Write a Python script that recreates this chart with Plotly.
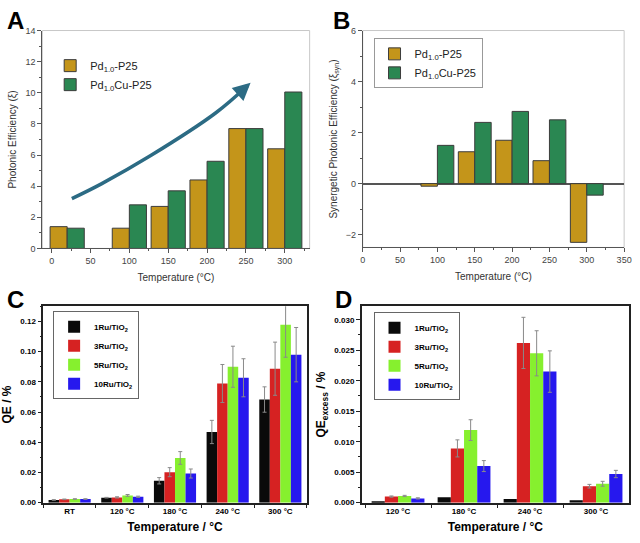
import plotly.graph_objects as go

# ---------------- data ----------------
# Panel A
temps_a = [20, 100, 150, 200, 250, 300]
pe_pd = [1.4, 1.3, 2.7, 4.4, 7.7, 6.4]
pe_pdcu = [1.3, 2.8, 3.7, 5.6, 7.7, 10.05]
arrow_x = [26, 64, 127, 211, 252]
arrow_y = [3.2, 4.15, 5.95, 8.7, 10.45]

# Panel B
temps_b = [100, 150, 200, 250, 300]
syn_pd = [-0.1, 1.25, 1.7, 0.9, -2.3]
syn_pdcu = [1.5, 2.4, 2.83, 2.5, -0.45]

# Panel C
cats_c = ["RT", "120 °C", "180 °C", "240 °C", "300 °C"]
qe_1 = [0.0018, 0.0033, 0.0145, 0.0468, 0.0683]
qe_3 = [0.0022, 0.0035, 0.0202, 0.0789, 0.0887]
qe_5 = [0.0024, 0.0048, 0.0296, 0.0900, 0.1178]
qe_10 = [0.0024, 0.0039, 0.0193, 0.0827, 0.0980]
qe_1_err = [0.0002, 0.0002, 0.0021, 0.0077, 0.0084]
qe_3_err = [0.0002, 0.0004, 0.0030, 0.0126, 0.0176]
qe_5_err = [0.0002, 0.0006, 0.0042, 0.0136, 0.0215]
qe_10_err = [0.0002, 0.0004, 0.0030, 0.0126, 0.0180]

# Panel D
cats_d = ["120 °C", "180 °C", "240 °C", "300 °C"]
qx_1 = [0.00015, 0.0009, 0.0006, 0.0004]
qx_3 = [0.0010, 0.0089, 0.0262, 0.0027]
qx_5 = [0.0011, 0.0119, 0.0245, 0.0031]
qx_10 = [0.0007, 0.0060, 0.0215, 0.0047]
qx_3_err = [0.0001, 0.0014, 0.0042, 0.0003]
qx_5_err = [0.0001, 0.0017, 0.0037, 0.0004]
qx_10_err = [0.0001, 0.0009, 0.0034, 0.0006]

ru_names = ["1Ru/TiO<sub>2</sub>", "3Ru/TiO<sub>2</sub>", "5Ru/TiO<sub>2</sub>", "10Ru/TiO<sub>2</sub>"]
ru_colors = ["#0a0a0a", "#d62222", "#86f02e", "#2618ee"]
GOLD = "#c4951a"
GREEN = "#2a8752"
ARROW = "#2c6b84"
FONT = "Liberation Sans"

W, H = 640, 543
def px_x(a, b):
    return [a / W, b / W]
def px_y(top, bottom):
    return [1 - bottom / H, 1 - top / H]

fig = go.Figure()

# ---- A ----
fig.add_trace(go.Bar(x=temps_a, y=pe_pd, width=22, offset=-22, marker=dict(color=GOLD, line=dict(color="#3c3c3c", width=1)),
                     name="Pd<sub>1.0</sub>-P25", xaxis="x", yaxis="y", legend="legend"))
fig.add_trace(go.Bar(x=temps_a, y=pe_pdcu, width=22, offset=0, marker=dict(color=GREEN, line=dict(color="#3c3c3c", width=1)),
                     name="Pd<sub>1.0</sub>Cu-P25", xaxis="x", yaxis="y", legend="legend"))
fig.add_trace(go.Scatter(x=arrow_x, y=arrow_y, mode="lines", line=dict(color=ARROW, width=3.5, shape="spline"),
                         showlegend=False, hoverinfo="skip", xaxis="x", yaxis="y"))

# ---- B ----
fig.add_trace(go.Bar(x=temps_b, y=syn_pd, width=22, offset=-22, marker=dict(color=GOLD, line=dict(color="#3c3c3c", width=1)),
                     name="Pd<sub>1.0</sub>-P25", xaxis="x2", yaxis="y2", legend="legend2"))
fig.add_trace(go.Bar(x=temps_b, y=syn_pdcu, width=22, offset=0, marker=dict(color=GREEN, line=dict(color="#3c3c3c", width=1)),
                     name="Pd<sub>1.0</sub>Cu-P25", xaxis="x2", yaxis="y2", legend="legend2"))

# ---- C ----
c_vals = [qe_1, qe_3, qe_5, qe_10]
c_errs = [qe_1_err, qe_3_err, qe_5_err, qe_10_err]
for nm, col, v, e in zip(ru_names, ru_colors, c_vals, c_errs):
    fig.add_trace(go.Bar(x=cats_c, y=v, name=nm, marker=dict(color=col, line=dict(width=0)),
                         error_y=dict(type="data", array=e, color="#8a8a8a", thickness=1, width=2),
                         xaxis="x3", yaxis="y3", legend="legend3"))

# ---- D ----
d_vals = [qx_1, qx_3, qx_5, qx_10]
d_errs = [None, qx_3_err, qx_5_err, qx_10_err]
for nm, col, v, e in zip(ru_names, ru_colors, d_vals, d_errs):
    eb = dict(type="data", array=e, color="#8a8a8a", thickness=1, width=2) if e is not None else dict(visible=False)
    fig.add_trace(go.Bar(x=cats_d, y=v, name=nm, marker=dict(color=col, line=dict(width=0)),
                         error_y=eb, xaxis="x4", yaxis="y4", legend="legend4"))

ab_tick = dict(family=FONT, size=9, color="#444")
ab_title = dict(family=FONT, size=10, color="#333")
cd_tick = dict(family=FONT, size=8, color="#000", weight="bold")
cd_title = dict(family=FONT, size=12, color="#000", weight="bold")

common_ab = dict(showgrid=False, zeroline=False, showline=True, linecolor="#555", linewidth=1,
                 ticks="outside", ticklen=4, tickcolor="#555", tickfont=ab_tick)
common_cd = dict(showgrid=False, zeroline=False, showline=True, linecolor="#222", linewidth=1.5, mirror=True,
                 ticks="outside", ticklen=4, tickcolor="#222", tickfont=cd_tick)

fig.update_layout(
    width=W, height=H, margin=dict(l=0, r=0, t=0, b=0),
    paper_bgcolor="white", plot_bgcolor="white",
    barmode="group", bargap=0.2, bargroupgap=0,
    font=dict(family=FONT),
    xaxis=dict(domain=px_x(40, 312), anchor="y", range=[-12, 332], tick0=0, dtick=50,
               minor=dict(dtick=25, ticks="outside", ticklen=2, tickcolor="#555"),
               title=dict(text="Temperature (°C)", font=ab_title, standoff=8), **common_ab),
    yaxis=dict(domain=px_y(26, 248), anchor="x", range=[0, 14], dtick=2,
               minor=dict(dtick=1, ticks="outside", ticklen=2, tickcolor="#555"),
               title=dict(text="Photonic Efficiency (ξ)", font=ab_title, standoff=6), **common_ab),
    xaxis2=dict(domain=px_x(366, 632), anchor="y2", range=[0, 350], tick0=0, dtick=50,
                minor=dict(dtick=25, ticks="outside", ticklen=2, tickcolor="#555"),
                title=dict(text="Temperature (°C)", font=ab_title, standoff=8), **common_ab),
    yaxis2=dict(domain=px_y(26, 247), anchor="x2", range=[-2.5, 6], dtick=2,
                minor=dict(dtick=1, ticks="outside", ticklen=2, tickcolor="#555"),
                title=dict(text="Synergetic Photonic Efficiency (ξ<sub>syn</sub>)", font=ab_title, standoff=6),
                **{k: v for k, v in common_ab.items() if k != "zeroline"}, zeroline=True, zerolinecolor="#555", zerolinewidth=1.5),
    xaxis3=dict(domain=px_x(41, 309), anchor="y3", type="category", range=[-0.5, 4.5], tickson="boundaries",
                title=dict(text="Temperature / °C", font=cd_title, standoff=8), **common_cd),
    yaxis3=dict(domain=px_y(307, 507), anchor="x3", range=[0, 0.13], dtick=0.02, tickformat=".2f",
                minor=dict(dtick=0.01, ticks="outside", ticklen=2, tickcolor="#222"),
                title=dict(text="QE / %", font=cd_title, standoff=6), **common_cd),
    xaxis4=dict(domain=px_x(365, 637), anchor="y4", type="category", range=[-0.55, 3.5], tickson="boundaries",
                title=dict(text="Temperature / °C", font=cd_title, standoff=8), **common_cd),
    yaxis4=dict(domain=px_y(307, 507), anchor="x4", range=[0, 0.0322], dtick=0.005, tickformat=".3f",
                minor=dict(dtick=0.0025, ticks="outside", ticklen=2, tickcolor="#222"),
                title=dict(text="QE<sub>excess</sub> / %", font=cd_title, standoff=6), **common_cd),
    legend=dict(x=48 / W, y=1 - 47 / H, xanchor="left", yanchor="top", bgcolor="rgba(0,0,0,0)",
                font=dict(family=FONT, size=11, color="#222")),
    legend2=dict(x=377 / W, y=1 - 34 / H, xanchor="left", yanchor="top", bgcolor="white",
                 bordercolor="#999", borderwidth=1, font=dict(family=FONT, size=11, color="#222")),
    legend3=dict(x=51 / W, y=1 - 312 / H, xanchor="left", yanchor="top", bgcolor="white",
                 bordercolor="#666", borderwidth=1, font=dict(family=FONT, size=8, color="#000", weight="bold")),
    legend4=dict(x=377 / W, y=1 - 313 / H, xanchor="left", yanchor="top", bgcolor="white",
                 bordercolor="#666", borderwidth=1, font=dict(family=FONT, size=8, color="#000", weight="bold")),
    showlegend=True,
)

# light frame on top/right of A and B
for xr, yr in [("x domain", "y domain"), ("x2 domain", "y2 domain")]:
    fig.add_shape(type="rect", xref=xr, yref=yr, x0=0, x1=1, y0=0, y1=1,
                  line=dict(color="#c8c8c8", width=1), layer="below")

# arrow head in A
fig.add_annotation(x=256, y=10.64, ax=arrow_x[-1] - 8, ay=arrow_y[-1] - 0.35, xref="x", yref="y",
                   axref="x", ayref="y", showarrow=True, arrowhead=2, arrowsize=1, arrowwidth=3.5,
                   arrowcolor=ARROW, text="")

# panel letters
for letter, xp, yp in [("A", 2, 0), ("B", 334, 0), ("C", 2, 284), ("D", 336, 284)]:
    fig.add_annotation(text="<b>" + letter + "</b>", x=xp / W, y=1 - yp / H, xref="paper", yref="paper",
                       xanchor="left", yanchor="top", showarrow=False,
                       font=dict(family=FONT, size=24, color="#000"))

fig.write_html("out.html")
